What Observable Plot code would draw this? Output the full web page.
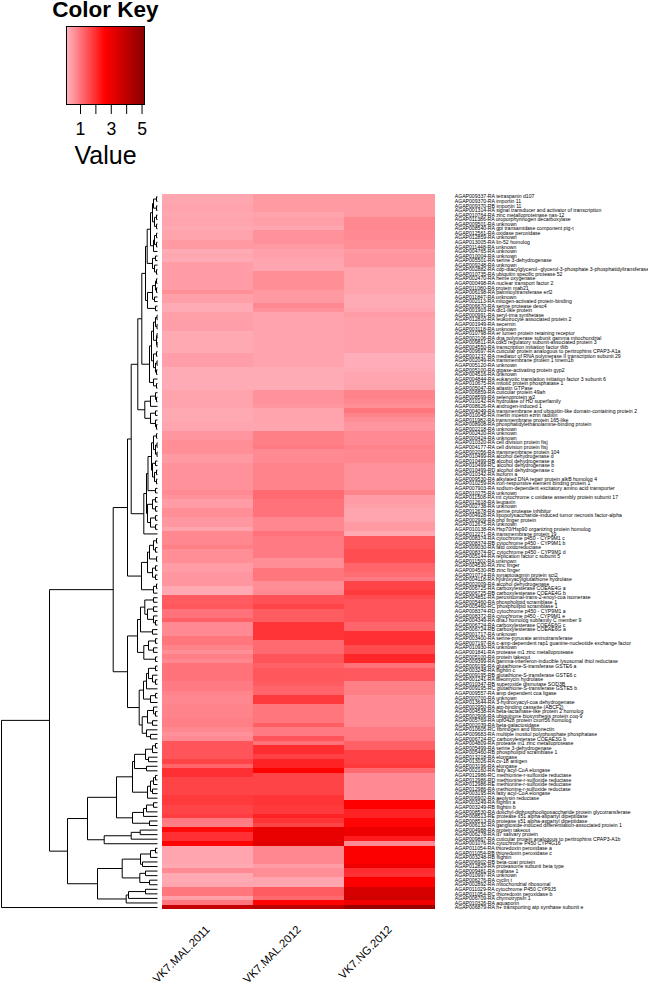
<!DOCTYPE html>
<html><head><meta charset="utf-8">
<script src="https://cdn.jsdelivr.net/npm/d3@7"></script>
<script src="https://cdn.jsdelivr.net/npm/@observablehq/plot@0.6"></script>
<style>
html,body{margin:0;padding:0;background:#fff}
#page{position:relative;width:648px;height:985px;overflow:hidden}
#page svg{position:absolute;left:0;top:0}
</style></head><body><div id="page"></div>
<script>
const samples = ["VK7.MAL.2011","VK7.MAL.2012","VK7.NG.2012"];
const labels = [
"AGAP009337-RA tetraspanin d107","AGAP009370-RA importin 11","AGAP009370-RB importin 11","AGAP001314-RA signal transducer and activator of transcription","AGAP010764-RA zinc metalloproteinase nas-12","AGAP011386-RA uroporphyrinogen decarboxylase","AGAP009501-RA unknown","AGAP008540-RA gpi transamidase component pig-t","AGAP012561-RA oxidase peroxidase","AGAP012859-RA unknown",
"AGAP013005-RA lin-52 homolog","AGAP011448-RA unknown","AGAP004765-RA unknown","AGAP010004-RA unknown","AGAP005501-RA serine 3-dehydrogenase","AGAP009248-RA unknown","AGAP002882-RA cdp-diacylglycerol--glycerol-3-phosphate 3-phosphatidyltransferase","AGAP010735-RA ubiquitin specific protease 52","AGAP002470-RA heme oxygenase","AGAP000498-RA nuclear transport factor 2",
"AGAP011080-RA protein mab21","AGAP006198-RA palmitoyltransferase erf2","AGAP011847-RA unknown","AGAP002113-RA mitogen-activated protein-binding","AGAP006670-RA serine protease desc4","AGAP001903-RA dlc1-like protein","AGAP000991-RA seryl-trna synthetase","AGAP012810-RA leukotrocyte associated protein 2","AGAP001949-RA secernin","AGAP003118-RA unknown",
"AGAP010798-RA er lumen protein retaining receptor","AGAP002106-RA dna polymerase subunit gamma mitochondrial","AGAP009811-RA cdk5 regulatory subunit-associated protein 3","AGAP004550-RA transcription initiation factor tfiib","AGAP009697-RA cuticular protein analogous to peritrophins CPAP3-A1a","AGAP001237-RA mediator of RNA polymerase II transcription subunit 29","AGAP002049-RA transmembrane protein 1 tmem1b","AGAP005120-RA unknown","AGAP005100-RA gtpase-activating protein gyp2","AGAP004516-RA unknown",
"AGAP004844-RA eukaryotic translation initiation factor 3 subunit 6","AGAP010675-RA mitotic protein phosphatase 1","AGAP005047-RA atlastin GTPase","AGAP006859-RA cuticular protein 49ah","AGAP008599-RA selenoprotein w2","AGAP010142-RA hydrolase of HD superfamily","AGAP008626-RA androgen-induced 1","AGAP004049-RA transmembrane and ubiquitin-like domain-containing protein 2","AGAP010045-RA merlin moesin ezrin radixin","AGAP011982-RA transmembrane protein 165-like",
"AGAP008908-RA phosphatidylethanolamine-binding protein","AGAP002218-RA unknown","AGAP002420-RA unknown","AGAP000424-RA unknown","AGAP010320-RA cell division protein ftsj","AGAP004177-RA cell division protein ftsj","AGAP002056-RA transmembrane protein 104","AGAP010499-RA alcohol dehydrogenase d","AGAP010499-RB alcohol dehydrogenase a","AGAP010499-RC alcohol dehydrogenase b",
"AGAP010499-RD alcohol dehydrogenase c","AGAP010342-RA isoform a","AGAP009530-RA alkylated DNA repair protein alkB homolog 4","AGAP010259-RA iron-responsive element binding protein 1","AGAP007903-RA sodium-dependent excitatory amino acid transporter","AGAP010275-RA unknown","AGAP011508-RA mt cytochrome c oxidase assembly protein subunit 17","AGAP012618-RA leupaxin","AGAP002738-RA unknown","AGAP012678-RA serine protease inhibitor",
"AGAP004928-RA lipopolysaccharide-induced tumor necrosis factor-alpha","AGAP002909-RA phd finger protein","AGAP012675-RA unknown","AGAP010138-RA Hsp70/Hsp90 organizing protein homolog","AGAP012271-RA transmembrane protein 19","AGAP008374-RA cytochrome p450 - CYP9M1 c","AGAP008374-RB cytochrome p450 - CYP9M1 b","AGAP009030-RA fatd oxidoreductase","AGAP008374-RC cytochrome p450 - CYP9M1 d","AGAP005144-RA replication factor c subunit 5",
"AGAP011502-RA unknown","AGAP004530-RA zinc finger","AGAP004530-RB zinc finger","AGAP010714-RA synaptotagmin protein sct2","AGAP004118-RA hydroxyacylglutathione hydrolase","AGAP002009-RA alcohol dehydrogenase","AGAP006725-RA carboxylesterase COEAE4G a","AGAP006725-RB carboxylesterase COEAE4G b","AGAP004851-RA peroxisomal-trans-2-enoyl-coa isomerase","AGAP005460-RA phospholipid scramblase 1",
"AGAP005460-RC phospholipid scramblase 1","AGAP008374-RD cytochrome p450 - CYP9M1 a","AGAP008372-RA cytochrome p450 - CYP9M1 e","AGAP004349-RA dnaJ homolog subfamily C member 9","AGAP006724-RA carboxylesterase COEAE6G c","AGAP006724-RB carboxylesterase COEAE6G a","AGAP001717-RA unknown","AGAP003400-RA serine-pyruvate aminotransferase","AGAP007197-RA c-amp-dependent rap1 guanine-nucleotide exchange factor","AGAP010930-RA unknown",
"AGAP001841-RA protease m1 zinc metalloprotease","AGAP005100-RA protein takeout","AGAP009399-RA gamma-interferon-inducible lysosomal thiol reductase","AGAP009195-RA glutathione-S-transferase GSTE6 a","AGAP003248-RA flightin c","AGAP009195-RB glutathione-S-transferase GSTE6 c","AGAP001241-RA bleomycin hydrolase","AGAP010347-RB superoxide dismutase SOD3B","AGAP009195-RC glutathione-S-transferase GSTE5 b","AGAP009557-RA amp dependent coa ligase",
"AGAP000700-RA unknown","AGAP013644-RA 3-hydroxyacyl-coa dehydrogenase","AGAP002950-RA atp-binding cassette (ABCF2)","AGAP004538-RA beta-lactamase-like protein 2 homolog","AGAP002906-RA ubiquinone biosynthesis protein coq-9","AGAP005769-RA upf0428 protein cxorf56 homolog","AGAP002039-RA beta-galactosidase","AGAP010605-RC fibrinogen and fibronectin","AGAP009683-RA multiple inositol polyphosphate phosphatase","AGAP006724-RC carboxylesterase COEAE3G b",
"AGAP004809-RA protease m1 zinc metalloprotease","AGAP005499-RA serine 3-dehydrogenase","AGAP005460-RB phospholipid scramblase 1","AGAP013218-RA elongase","AGAP013026-RA cv-18 antigen","AGAP003196-RA elongase","AGAP002160-RA fatty acyl-CoA elongase","AGAP012986-RC methionine-r-sulfoxide reductase","AGAP012986-RD methionine-r-sulfoxide reductase","AGAP012986-RE methionine-r-sulfoxide reductase",
"AGAP012986-RA methionine-r-sulfoxide reductase","AGAP003195-RA fatty acyl-CoA elongase","AGAP006902-RA aeolysin reductase","AGAP003249-RA flightin a","AGAP003249-RB flightin b","AGAP008530-RA dolichyl-diphosphooligosaccharide protein glycotransferase","AGAP008513-RE protease s51 alpha-aspartyl dipeptidase","AGAP008513-RA protease s51 alpha-aspartyl dipeptidase","AGAP006132-RA ganglioside-induced differentiation-associated protein 1","AGAP004988-RA protein takeout",
"AGAP006278-RA d7 salivary protein","AGAP009867-RA cuticular protein analogous to peritrophins CPAP3-A1b","AGAP001076-RA cytochrome P450 CYP4G16","AGAP011054-RA thioredoxin peroxidase a","AGAP011054-RB thioredoxin peroxidase c","AGAP003248-RB flightin","AGAP006902-RB beta-coat protein","AGAP012829-RA proteasome subunit beta type","AGAP009481-RA maltase 1","AGAP010997-RA unknown",
"AGAP006276-RA cyclin t","AGAP002892-RA mitochondrial ribosomal","AGAP011029-RA cytochrome P450 CYP9J5","AGAP011054-RC thioredoxin peroxidase b","AGAP006709-RA chymotrypsin 1","AGAP010326-RA aquaporin","AGAP006879-RA h+ transporting atp synthase subunit e"
];
const mal2011 = [
.3,.3,.36,.36,.3,.36,.32,.27,.36,.36,
.5,.5,.24,.3,.24,.45,.45,.45,.45,.45,
.45,.65,.4,.4,.24,.24,.4,.4,.42,.42,
.27,.27,.27,.27,.27,.42,.42,.42,.24,.24,
.24,.24,.24,.36,.36,.36,.34,.27,.27,.27,
.32,.32,.55,.55,.65,.65,.65,.5,.5,.6,
.6,.6,.6,.6,.6,.7,.6,.45,.45,.65,
.65,.52,.52,.36,.75,.75,.75,.85,.65,.65,
.65,.45,.45,.55,.55,.55,.27,.27,1.35,1.35,
1.42,1.04,1.04,1.28,.7,.7,.7,.98,.98,.8,
.65,.85,.75,1.04,1.04,1.04,1.04,.92,.92,.8,
.75,.75,.8,.8,.8,.85,.85,.75,.6,.7,
1.45,1.45,1.45,1.45,1.68,1.22,1.95,1.95,1.68,1.68,
1.68,1.68,1.82,1.82,1.68,1.68,1.78,.92,.85,2.5,
1.95,1.95,2.6,.32,.32,.32,.32,.27,.7,.27,
.27,.32,.98,.98,.4,.98,3.9];
const mal2012 = [
.5,.5,.5,.5,.36,.4,.4,.3,.6,.6,
.6,.5,.39,.39,.32,.32,.32,.65,.65,.65,
.65,.5,.5,.5,.75,.6,.34,.34,.34,.34,
.34,.34,.34,.34,.34,.34,.34,.34,.24,.24,
.24,.24,.24,.6,.6,.6,.55,.36,.36,.36,
.32,.32,.85,.85,.85,.92,.7,.7,.7,.8,
.8,.8,.8,.8,.8,1.16,1.16,1.04,1.04,1.04,
1.04,.75,.75,.75,1.04,.92,.92,.92,.92,.92,
.65,.65,.98,.98,.98,.65,.65,.7,1.5,1.5,
1.68,1.35,1.35,1.35,1.9,1.9,1.9,1.9,1.16,1.16,
1.16,1.45,1.45,1.28,1.42,1.42,1.42,1.35,1.22,1.22,
1.82,1.82,.98,.98,.98,.98,1.32,.92,.92,1.45,
1.04,2,2,1.72,2.15,2.15,2.6,1.68,1.68,1.68,
1.68,1.68,1.9,1.9,1.82,1.82,2.15,1.9,1.68,3.1,
3.1,3.1,3.3,.75,.75,.75,.75,.45,.65,.65,
.32,.32,1.35,1.35,1.16,2.6,4.1];
const ng2012 = [
.5,.5,.5,.5,.5,.75,.75,.75,.7,.7,
.65,.65,.5,.55,.55,.55,.36,.36,.36,.36,
.36,.36,.24,.24,.24,.32,.45,.39,.39,.39,
.39,.39,.39,.39,.39,.2,.2,.2,.24,.32,
.32,.32,.36,.8,.8,.75,.65,.98,.8,.65,
.55,.55,.7,.7,.7,.8,.75,.75,.75,.6,
.6,.6,.6,.6,.6,.8,.45,.45,.4,.32,
.32,.32,.5,.5,.27,1.42,1.42,1.42,1.55,1.55,
1.55,1.22,1.22,1.1,.92,1.68,1.68,1.82,1.6,1.45,
1.45,1.45,1.45,1.45,1.22,1.22,1.95,1.95,1.95,1.6,
1.6,2.1,2.1,1.04,1.38,1.38,1.38,.85,.85,.85,
.7,.7,.7,.7,.7,.7,.7,.92,.92,.92,
1.28,1.28,1.72,1.72,1.72,1.82,1.16,.7,.7,.7,
.7,.7,.7,2.65,2.65,2.15,2.15,2.55,2.55,3,
3,2.25,.7,2.7,2.7,2.7,2.7,3,2.0,1.95,
2.65,2.65,3.5,3.5,3.7,2.9,4.8];

// Dendrogram: each node is [merge height, left branch, right branch]; a bare number is a row (1-based)
const top1 = [7,[5,[4,[1,1,2],[1,3,4]],[3,[1,5,6],[1,7,8]]],[4,[3,[1,9,10],[1,11,12]],13]];
const top2 = [5,[2,14,15],[3,16,[1,17,18]]];
const top3 = [10,[5,[2,[1,19,20],[1,21,22]],[3,23,24]],[2,25,26]];
const nodeA = [12,[10.3,top1,top2],top3];
const nodeB = [8,[6,[4,[2,[.5,27,28],[.5,29,30]],[1,[.5,31,32],[.5,33,34]]],[4,[1,35,36],[2,[.5,37,38],[1,39,40]]]],[4,41,[1,42,43]]];
const nodeD = [12.7,[7,[2,44,[1,45,46]],47],[7,[2,48,49],[2,50,[1,51,52]]]];
const nodeE = [19.7,[15.7,nodeA,nodeB],nodeD];
const P1 = [6,[4,[1,53,54],[2,[.5,55,56],[.5,57,58]]],[5,[2,59,60],[3,[1,61,62],[1,63,64]]]];
const Q = [10,[5,[2,67,68],[2,69,70]],[7,[2,71,72],[2,73,74]]];
const nodeF = [13.7,[11,[9.5,P1,[2,65,66]],Q],75];
const nodeH = [16,[10,[8,[4,[1,76,77],[2,78,79]],[1,80,81]],[5,[2,82,83],[2,84,85]]],[4,[1,86,87],88]];
const nodeI = [30,[26.3,nodeE,nodeF],nodeH];
const J1 = [20,[17,[12.7,[4,89,90],[10,[4,91,92],[4,93,[2,94,95]]]],[5,96,97]],[13.7,[9,[2,98,99],[4,100,101]],[2,102,103]]];
const J2 = [18.3,[14,[11,[9,[2,104,105],[5,106,[2,107,108]]],109],[7,[2,110,111],112]],[15.3,[10,[4,113,[2,114,115]],[5,116,117]],[11,118,[7,119,120]]]];
const nodeK = [44.3,nodeI,[30,J1,J2]];
const L1 = [25,[23,[12,[5,[2,121,122],123],[9,124,125]],[11,126,127]],[10,[7,[4,[2,128,129],130],[5,131,132]],133]];
const L2 = [25,[14,[11,[4,134,135],136],137],[8,138,139]];
const nodeM = [70,[41,L1,L2],[53.3,[26.3,[17.3,140,141],142],143]];
const N1 = [35.3,[17,[7,[2,144,145],146],[15,147,148]],[17.7,[12,149,150],[8,151,152]]];
const N2 = [31.3,[29,[12,153,154],155],156];
const dendroRoot = [156,[108,nodeK,[90,nodeM,[60,N1,N2]]],157];

const keyTicks = [1,2,3,4,5];
const keyDomain = [0.09,2.625,5.16];
const keyRange = ["#ffb6c1","#ff0000","#8b0000"];
const keySteps = d3.range(0.09,5.16,0.02);
const font = "'Liberation Sans', Arial, Helvetica, sans-serif";
const page = document.getElementById("page");

// heat map
const cells = [];
[mal2011,mal2012,ng2012].forEach((col,c)=>col.forEach((v,r)=>cells.push({sample:samples[c],row:r,value:v})));
const heat = Plot.plot({
  width:648,height:985,
  marginLeft:161.7,marginRight:213.3,marginTop:194,marginBottom:75.7,
  style:{background:"transparent",fontFamily:font},
  x:{domain:samples,padding:0,label:null},
  y:{domain:labels.map((d,i)=>i),padding:0,label:null},
  color:{type:"linear",domain:keyDomain,range:keyRange},
  marks:[
    Plot.cell(cells,{x:"sample",y:"row",fill:"value",shapeRendering:"crispEdges"}),
    Plot.axisY({anchor:"right",tickSize:0,tickPadding:19.5,fontSize:5.15,tickFormat:i=>labels[i],label:null,fill:"#000"}),
    Plot.axisX({anchor:"bottom",tickSize:0,tickRotate:-45,tickPadding:18,fontSize:11.3,label:null,fill:"#000"})
  ]
});
page.appendChild(heat);

// dendrogram
const segs = [];
function walk(n){
  if(typeof n==="number") return {y:n-0.5,h:0};
  const a=walk(n[1]),b=walk(n[2]);
  segs.push({x1:n[0],y1:a.y,x2:a.h,y2:a.y},{x1:n[0],y1:b.y,x2:b.h,y2:b.y},{x1:n[0],y1:a.y,x2:n[0],y2:b.y});
  return {y:(a.y+b.y)/2,h:n[0]};
}
walk(dendroRoot);
const dendro = Plot.plot({
  width:160,height:985,margin:0,
  style:{background:"transparent"},
  x:{domain:[156,0],range:[1,157],axis:null},
  y:{domain:[0,labels.length],range:[194,909.3],axis:null},
  marks:[Plot.link(segs,{x1:"x1",y1:"y1",x2:"x2",y2:"y2",stroke:"#000",strokeWidth:1,curve:"linear"})]
});
page.appendChild(dendro);

// colour key
const key = Plot.plot({
  width:210,height:190,
  marginLeft:66,marginRight:66,marginTop:26,marginBottom:86,
  style:{background:"transparent",fontFamily:font},
  x:{domain:[keyDomain[0],keyDomain[2]],label:null},
  color:{type:"linear",domain:keyDomain,range:keyRange},
  marks:[
    Plot.rect(keySteps,{x1:d=>d,x2:d=>d+0.02,fill:d=>d,shapeRendering:"crispEdges"}),
    Plot.frame({stroke:"#000",strokeWidth:1}),
    Plot.axisX({ticks:keyTicks,tickFormat:d=>d%2?d:"",tickSize:10,tickPadding:8,fontSize:17.6,stroke:"#000",fill:"#000",label:null}),
    Plot.text(["Value"],{frameAnchor:"bottom",dy:59,fontSize:25,fill:"#000",lineAnchor:"bottom"}),
    Plot.text(["Color Key"],{frameAnchor:"top",dy:-25,fontSize:22.5,fontWeight:"bold",fill:"#000",lineAnchor:"top"})
  ]
});
page.appendChild(key);
</script></body></html>
